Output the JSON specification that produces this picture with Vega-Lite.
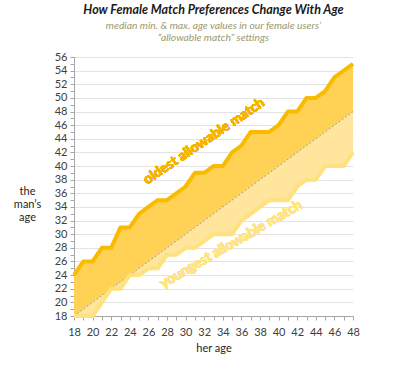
{
  "$schema": "https://vega.github.io/schema/vega-lite/v6.json",
  "autosize": {"type": "none"},
  "width": 279,
  "height": 259,
  "padding": {"left": 74, "top": 57, "right": 47, "bottom": 50},
  "background": "white",
  "title": {
    "text": "How Female Match Preferences Change With Age",
    "subtitle": ["median min. & max. age values in our female users’", "“allowable match” settings"],
    "anchor": "middle",
    "frame": "group",
    "font": "Lato",
    "fontSize": 12.5,
    "fontStyle": "italic",
    "fontWeight": "bold",
    "color": "#1a1a1a",
    "subtitleFont": "Lato",
    "subtitleFontSize": 10.3,
    "subtitleFontStyle": "italic",
    "subtitleColor": "#9c9870",
    "subtitlePadding": 4,
    "subtitleLineHeight": 12,
    "offset": 8
  },
  "config": {
    "view": {"stroke": null},
    "font": "Lato",
    "axisY": {
      "labelOverlap": false,
      "labelBound": false,
      "labelFlush": false,
      "grid": true,
      "gridColor": "#e3e3e3",
      "domainColor": "#a6a6a6",
      "tickColor": "#a6a6a6",
      "tickSize": 4,
      "labelPadding": 3,
      "labelFont": "Lato",
      "labelFontSize": 11,
      "labelColor": "#404040",
      "titleAngle": 0,
      "titleAlign": "center",
      "titleBaseline": "middle",
      "titleX": -47,
      "titleY": 134,
      "titleLineHeight": 13,
      "titleFont": "Lato",
      "titleFontSize": 11,
      "titleFontWeight": "normal",
      "titleColor": "#262626"
    }
  },
  "data": {
    "values": [
      {"age": 18, "diag": 18, "min": 18, "max": 24},
      {"age": 19, "diag": 19, "min": 18, "max": 26},
      {"age": 20, "diag": 20, "min": 18, "max": 26},
      {"age": 21, "diag": 21, "min": 20, "max": 28},
      {"age": 22, "diag": 22, "min": 22, "max": 28},
      {"age": 23, "diag": 23, "min": 22, "max": 31},
      {"age": 24, "diag": 24, "min": 24, "max": 31},
      {"age": 25, "diag": 25, "min": 24, "max": 33},
      {"age": 26, "diag": 26, "min": 25, "max": 34},
      {"age": 27, "diag": 27, "min": 25, "max": 35},
      {"age": 28, "diag": 28, "min": 27, "max": 35},
      {"age": 29, "diag": 29, "min": 27, "max": 36},
      {"age": 30, "diag": 30, "min": 28, "max": 37},
      {"age": 31, "diag": 31, "min": 28, "max": 39},
      {"age": 32, "diag": 32, "min": 29, "max": 39},
      {"age": 33, "diag": 33, "min": 30, "max": 40},
      {"age": 34, "diag": 34, "min": 30, "max": 40},
      {"age": 35, "diag": 35, "min": 30, "max": 42},
      {"age": 36, "diag": 36, "min": 32, "max": 43},
      {"age": 37, "diag": 37, "min": 33, "max": 45},
      {"age": 38, "diag": 38, "min": 34, "max": 45},
      {"age": 39, "diag": 39, "min": 35, "max": 45},
      {"age": 40, "diag": 40, "min": 35, "max": 46},
      {"age": 41, "diag": 41, "min": 35, "max": 48},
      {"age": 42, "diag": 42, "min": 37, "max": 48},
      {"age": 43, "diag": 43, "min": 38, "max": 50},
      {"age": 44, "diag": 44, "min": 38, "max": 50},
      {"age": 45, "diag": 45, "min": 40, "max": 51},
      {"age": 46, "diag": 46, "min": 40, "max": 53},
      {"age": 47, "diag": 47, "min": 40, "max": 54},
      {"age": 48, "diag": 48, "min": 42, "max": 55}
    ]
  },
  "encoding": {
    "x": {
      "field": "age",
      "type": "quantitative",
      "scale": {"domain": [18, 48], "nice": false, "zero": false},
      "axis": {
        "title": "her age",
        "values": [18,19,20,21,22,23,24,25,26,27,28,29,30,31,32,33,34,35,36,37,38,39,40,41,42,43,44,45,46,47,48],
        "labelExpr": "datum.value % 2 == 0 ? datum.label : ''",
        "labelOverlap": false,
        "labelBound": false,
        "labelFlush": false,
        "grid": false,
        "domainColor": "#a6a6a6",
        "tickColor": "#a6a6a6",
        "tickSize": 4,
        "labelPadding": 6,
        "labelFont": "Lato",
        "labelFontSize": 11,
        "labelColor": "#404040",
        "titleFont": "Lato",
        "titleFontSize": 11,
        "titleFontWeight": "normal",
        "titleColor": "#262626",
        "titlePadding": 5
      }
    }
  },
  "layer": [
    {
      "mark": {"type": "area", "color": "#ffd256", "opacity": 1},
      "encoding": {
        "y": {
          "field": "max",
          "type": "quantitative",
          "scale": {"domain": [18, 56], "nice": false, "zero": false},
          "axis": {
            "title": ["the", "man’s", "age"],
            "values": [18,19,20,21,22,23,24,25,26,27,28,29,30,31,32,33,34,35,36,37,38,39,40,41,42,43,44,45,46,47,48,49,50,51,52,53,54,55,56],
            "labelExpr": "datum.value % 2 == 0 ? datum.label : ''",
            "gridOpacity": {"condition": {"test": "datum.value % 2 == 0", "value": 1}, "value": 0}
          }
        },
        "y2": {"field": "diag"}
      }
    },
    {
      "mark": {"type": "area", "color": "#ffe69c", "opacity": 1},
      "encoding": {
        "y": {
          "field": "diag",
          "type": "quantitative",
          "axis": {
            "title": ["the", "man’s", "age"],
            "values": [18,19,20,21,22,23,24,25,26,27,28,29,30,31,32,33,34,35,36,37,38,39,40,41,42,43,44,45,46,47,48,49,50,51,52,53,54,55,56],
            "labelExpr": "datum.value % 2 == 0 ? datum.label : ''",
            "gridOpacity": {"condition": {"test": "datum.value % 2 == 0", "value": 1}, "value": 0}
          }
        },
        "y2": {"field": "min"}
      }
    },
    {
      "mark": {"type": "line", "color": "#9a9a9a", "strokeWidth": 1, "strokeDash": [2, 2]},
      "encoding": {
        "y": {
          "field": "diag",
          "type": "quantitative",
          "axis": {
            "title": ["the", "man’s", "age"],
            "values": [18,19,20,21,22,23,24,25,26,27,28,29,30,31,32,33,34,35,36,37,38,39,40,41,42,43,44,45,46,47,48,49,50,51,52,53,54,55,56],
            "labelExpr": "datum.value % 2 == 0 ? datum.label : ''",
            "gridOpacity": {"condition": {"test": "datum.value % 2 == 0", "value": 1}, "value": 0}
          }
        }
      }
    },
    {
      "mark": {"type": "line", "color": "#ffe17e", "strokeWidth": 4, "strokeJoin": "round"},
      "encoding": {
        "y": {
          "field": "min",
          "type": "quantitative",
          "axis": {
            "title": ["the", "man’s", "age"],
            "values": [18,19,20,21,22,23,24,25,26,27,28,29,30,31,32,33,34,35,36,37,38,39,40,41,42,43,44,45,46,47,48,49,50,51,52,53,54,55,56],
            "labelExpr": "datum.value % 2 == 0 ? datum.label : ''",
            "gridOpacity": {"condition": {"test": "datum.value % 2 == 0", "value": 1}, "value": 0}
          }
        }
      }
    },
    {
      "mark": {"type": "line", "color": "#f9bb00", "strokeWidth": 4, "strokeJoin": "round"},
      "encoding": {
        "y": {
          "field": "max",
          "type": "quantitative",
          "axis": {
            "title": ["the", "man’s", "age"],
            "values": [18,19,20,21,22,23,24,25,26,27,28,29,30,31,32,33,34,35,36,37,38,39,40,41,42,43,44,45,46,47,48,49,50,51,52,53,54,55,56],
            "labelExpr": "datum.value % 2 == 0 ? datum.label : ''",
            "gridOpacity": {"condition": {"test": "datum.value % 2 == 0", "value": 1}, "value": 0}
          }
        }
      }
    },
    {
      "mark": {"type": "text", "text": "oldest allowable match", "angle": -34, "font": "Lato", "fontSize": 14, "fontWeight": "bold", "color": "#f5b400", "align": "center", "baseline": "middle"},
      "encoding": {
        "x": {"datum": 32.0},
        "y": {
          "datum": 43.6,
          "type": "quantitative",
          "axis": {
            "title": ["the", "man’s", "age"],
            "values": [18,19,20,21,22,23,24,25,26,27,28,29,30,31,32,33,34,35,36,37,38,39,40,41,42,43,44,45,46,47,48,49,50,51,52,53,54,55,56],
            "labelExpr": "datum.value % 2 == 0 ? datum.label : ''",
            "gridOpacity": {"condition": {"test": "datum.value % 2 == 0", "value": 1}, "value": 0}
          }
        }
      }
    },
    {
      "mark": {"type": "text", "text": "youngest allowable match", "angle": -30, "font": "Lato", "fontSize": 14, "fontWeight": "bold", "color": "#ffe482", "align": "center", "baseline": "middle"},
      "encoding": {
        "x": {"datum": 34.9},
        "y": {
          "datum": 28.5,
          "type": "quantitative",
          "axis": {
            "title": ["the", "man’s", "age"],
            "values": [18,19,20,21,22,23,24,25,26,27,28,29,30,31,32,33,34,35,36,37,38,39,40,41,42,43,44,45,46,47,48,49,50,51,52,53,54,55,56],
            "labelExpr": "datum.value % 2 == 0 ? datum.label : ''",
            "gridOpacity": {"condition": {"test": "datum.value % 2 == 0", "value": 1}, "value": 0}
          }
        }
      }
    }
  ]
}
